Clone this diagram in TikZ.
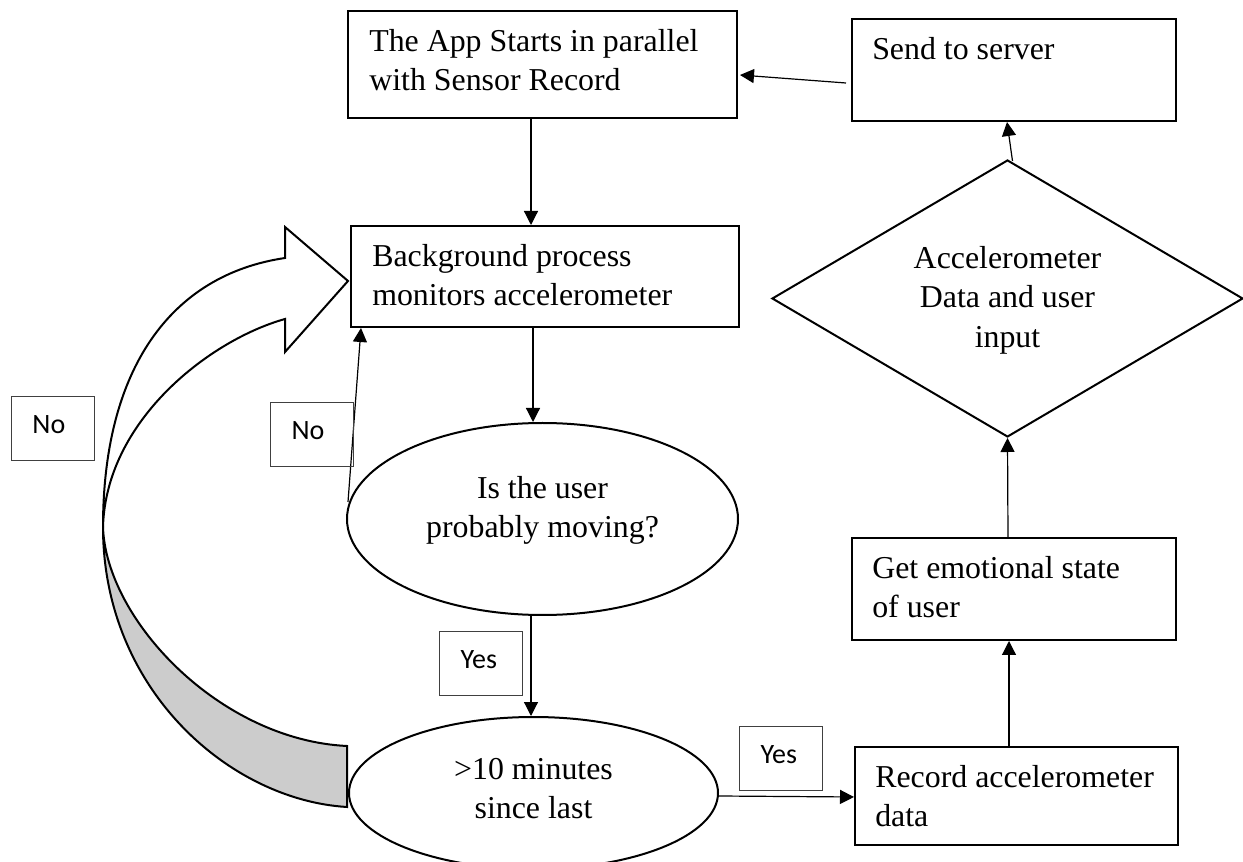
\documentclass[tikz,border=0pt]{standalone}
\usepackage{fontspec}
\setmainfont{Liberation Serif}
\newfontfamily\tagfont{Carlito}
\usetikzlibrary{arrows.meta,shapes.geometric}

\begin{document}
\begin{tikzpicture}[x=0.75pt,y=-0.75pt,
  box/.style={draw=black,line width=1.5pt,fill=white,rectangle,inner sep=0pt},
  oval/.style={draw=black,line width=1.5pt,fill=white,ellipse,inner sep=0pt},
  decision/.style={draw=black,line width=1.5pt,fill=white,diamond,inner sep=0pt},
  boxtext/.style={anchor=north west,inner sep=0pt,align=left,font=\fontsize{23.9pt}{29.5pt}\selectfont},
  midtext/.style={anchor=north,inner sep=0pt,align=center,font=\fontsize{23.9pt}{29.5pt}\selectfont},
  tag/.style={draw=black!75,line width=0.75pt,rectangle,anchor=north west,
    text width=30.75pt,inner xsep=15.75pt,inner ysep=7.5pt,
    text height=20.25pt,text depth=12.75pt,align=left,
    font=\tagfont\fontsize{21pt}{25pt}\selectfont},
  flow/.style={draw=black,line width=0.9pt,-{Triangle[length=10.5pt,width=10.5pt]}},
  band/.style={draw=black,line width=1.5pt,line join=miter},
]
\useasboundingbox (0,0) rectangle (1243,862);
\clip (0,0) rectangle (1243,862);
\fill[white] (0,0) rectangle (1243,862);

% curved "No" block arrow: shaded underside, then the white upper band with its head
\filldraw[band,fill=gray!40] (347,807) .. controls (230,800) and (103,690) .. (103,527)
  .. controls (106,620) and (220,740) .. (347,746) -- cycle;
\filldraw[band,fill=white] (103,527) .. controls (103,370) and (170,275) .. (285,258)
  -- (285,227) -- (348,281) -- (285,352) -- (285,319)
  .. controls (210,340) and (106,420) .. (103,527) -- cycle;

% process boxes
\node[box,minimum width=292.1pt,minimum height=80.25pt] (app) at (542.75,64.5) {};
\node[box,minimum width=291pt,minimum height=75.75pt] (bg) at (545,276.5) {};
\node[box,minimum width=243pt,minimum height=76.5pt] (send) at (1014,70) {};
\node[box,minimum width=243pt,minimum height=76.5pt] (emo) at (1014,589) {};
\node[box,minimum width=242.25pt,minimum height=73.5pt] (rec) at (1016.5,796) {};

% decisions
\node[oval,minimum width=293.25pt,minimum height=144pt] (moving) at (542.5,519) {};
\node[oval,minimum width=276.75pt,minimum height=114pt] (tenmin) at (533.5,793) {};
\node[decision,minimum width=353.25pt,minimum height=207.75pt] (dia) at (1007.5,298.5) {};

% texts
\node[boxtext] (appT) at ([shift={(22,19)}]app.north west) {The App Starts in parallel\\with Sensor Record};
\node[boxtext] (bgT) at ([shift={(22,19)}]bg.north west) {Background process\\monitors accelerometer};
\node[boxtext] (sendT) at ([shift={(21,19)}]send.north west) {Send to server};
\node[boxtext] (emoT) at ([shift={(21,19)}]emo.north west) {Get emotional state\\of user};
\node[boxtext] (recT) at ([shift={(21,19)}]rec.north west) {Record accelerometer\\data};
\node[midtext] (movingT) at ([shift={(0,54)}]moving.north) {Is the user\\probably moving?};
\node[midtext] (tenminT) at ([shift={(0,42)}]tenmin.north) {>10 minutes\\since last};
\node[midtext] (diaT) at ([shift={(0,87)}]dia.north) {Accelerometer\\Data and user\\input};

% connectors
\draw[flow] ([shift={(-5,13)}]send.west) -- ([shift={(1.5,10.5)}]app.east);
\draw[flow] ([shift={(-11.75,0)}]app.south) -- ([shift={(-14,0)}]bg.north);
\draw[flow] ([shift={(-12,0)}]bg.south) -- ([shift={(-9.5,0)}]moving.north);
\draw[flow] ([shift={(2,-17)}]moving.west) -- ([shift={(11,0)}]bg.south west);
\draw[flow] ([shift={(-11.5,0)}]moving.south) -- ([shift={(-2.5,0)}]tenmin.north);
\draw[flow] ([shift={(0,3)}]tenmin.east) -- ([shift={(0,1)}]rec.west);
\draw[flow] ([shift={(-7.5,0)}]rec.north) -- ([shift={(-5,0)}]emo.south);
\draw[flow] ([shift={(-6,0)}]emo.north) -- (dia.south);
\draw[flow] ([shift={(5,2)}]dia.north) -- ([shift={(-7,0)}]send.south);

% branch labels
\node[tag] (noA) at (11,396) {No};
\node[tag] (noB) at (270,402) {No};
\node[tag] (yesA) at (439,631) {Yes};
\node[tag] (yesB) at (739,726) {Yes};
\end{tikzpicture}
\end{document}
